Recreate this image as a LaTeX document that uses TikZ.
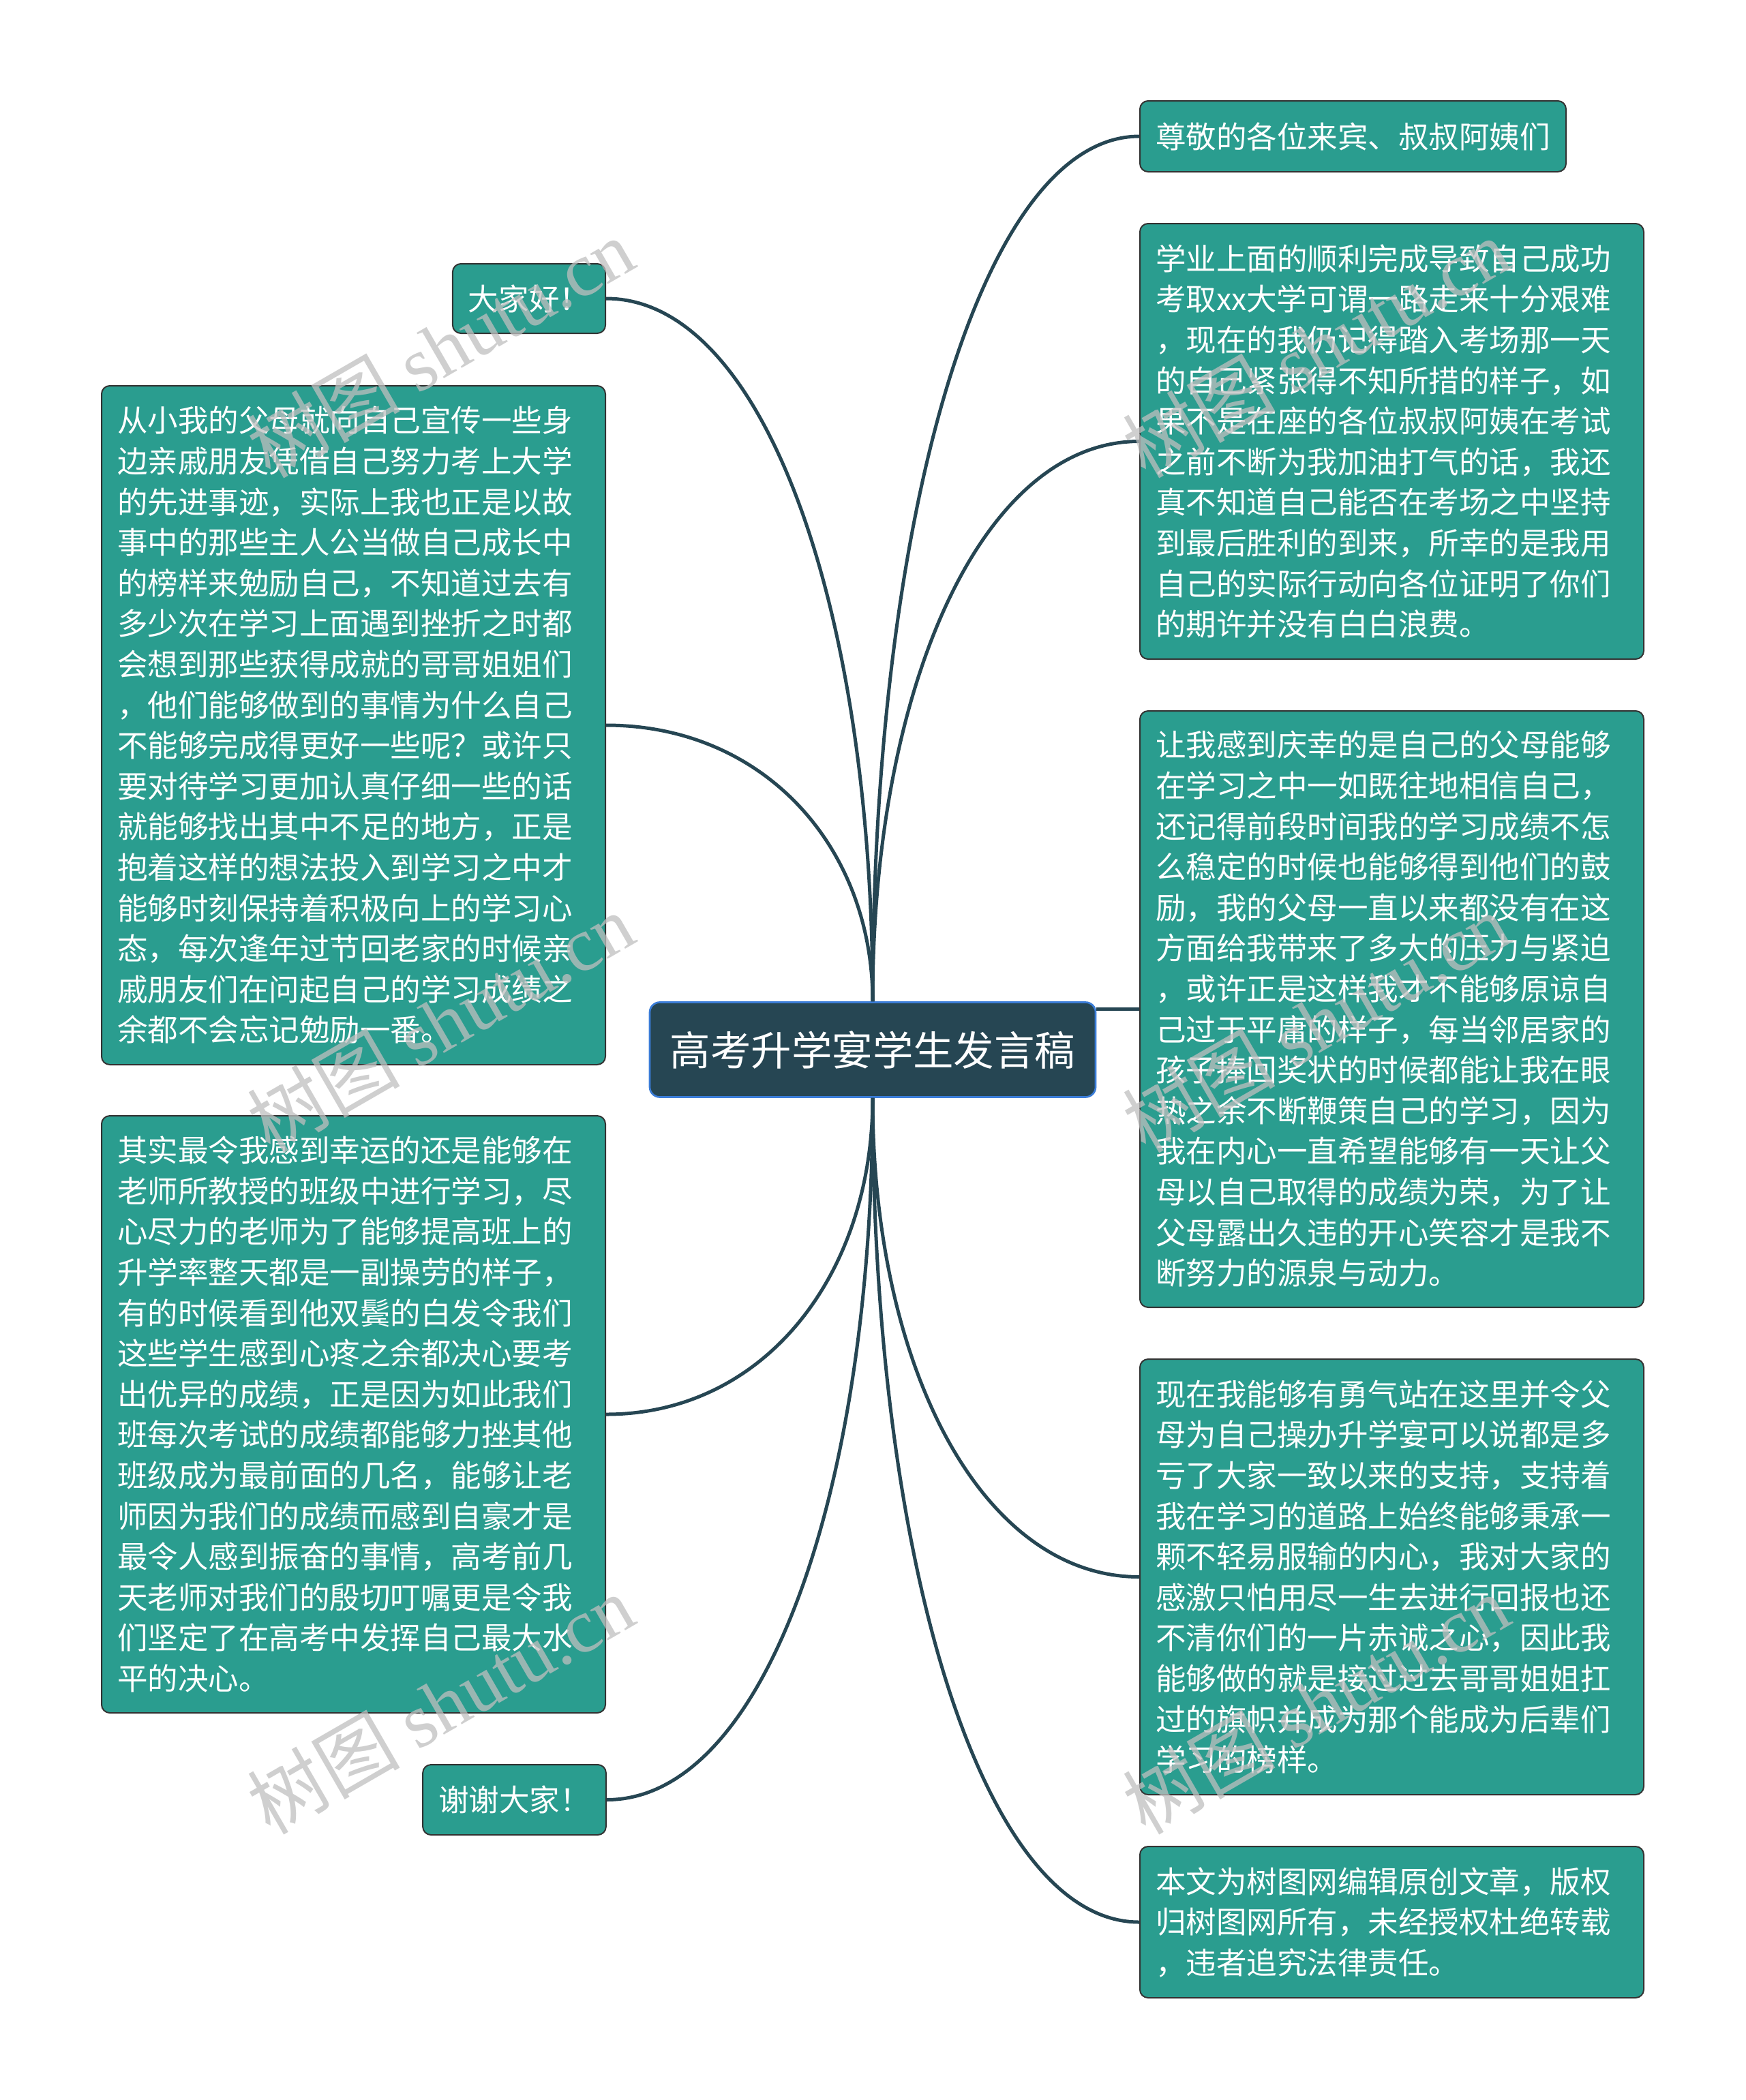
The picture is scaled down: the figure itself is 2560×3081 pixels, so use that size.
\documentclass[tikz,border=0pt]{standalone}
\usepackage{fontspec}
\setmainfont{Noto Sans CJK SC}
\newfontfamily\marklatin{Liberation Serif}
\usetikzlibrary{positioning}
\definecolor{deepslate}{HTML}{264653}
\definecolor{leafgreen}{HTML}{2A9D8F}
\definecolor{rimblue}{HTML}{3B7DD8}
\tikzset{every picture/.style={line width=0.75pt}}

\begin{document}
\begin{tikzpicture}[x=0.75pt,y=0.75pt,yscale=-1,xscale=1,
	topic/.style={draw=rimblue,fill=deepslate,line width=2pt,rounded corners=11pt,text=white,font=\fontsize{44.6}{53}\selectfont,minimum width=490.5pt,minimum height=104.25pt,inner sep=0pt},
	leaf/.style={draw=black!80,fill=leafgreen,line width=1.5pt,rounded corners=9pt,text=white,font=\fontsize{33.4}{44.7}\selectfont,inner xsep=17.25pt,inner ysep=0pt,align=left},
	longleaf/.style={leaf,text width=519.75pt},
	wire/.style={draw=deepslate,line width=3.75pt},
	wmark/.style={text=black!25,opacity=0.75,rotate=30,font=\fontsize{84}{84}\selectfont}]
	%set diagram to the full page
	\path[fill=white,use as bounding box] (0,0) rectangle (2560,3081);
	
	%Shape: Rounded Rectangle [main topic]
	\node[topic] (c) at (1280,1540) {高考升学宴学生发言稿};
	
	%Shape: Rounded Rectangle [right side]
	\node[leaf,minimum width=468.75pt,minimum height=78pt] (r1) at (1984.5,200) {尊敬的各位来宾、叔叔阿姨们};
	\node[longleaf,minimum height=479.25pt] (r2) at (2041.5,647.5) {学业上面的顺利完成导致自己成功\\考取xx大学可谓一路走来十分艰难\\，现在的我仍记得踏入考场那一天\\的自己紧张得不知所措的样子，如\\果不是在座的各位叔叔阿姨在考试\\之前不断为我加油打气的话，我还\\真不知道自己能否在考场之中坚持\\到最后胜利的到来，所幸的是我用\\自己的实际行动向各位证明了你们\\的期许并没有白白浪费。};
	\node[longleaf,minimum height=656.25pt] (r3) at (2041.5,1480.5) {让我感到庆幸的是自己的父母能够\\在学习之中一如既往地相信自己，\\还记得前段时间我的学习成绩不怎\\么稳定的时候也能够得到他们的鼓\\励，我的父母一直以来都没有在这\\方面给我带来了多大的压力与紧迫\\，或许正是这样我才不能够原谅自\\己过于平庸的样子，每当邻居家的\\孩子捧回奖状的时候都能让我在眼\\热之余不断鞭策自己的学习，因为\\我在内心一直希望能够有一天让父\\母以自己取得的成绩为荣，为了让\\父母露出久违的开心笑容才是我不\\断努力的源泉与动力。};
	\node[longleaf,minimum height=479.25pt] (r4) at (2041.5,2313.5) {现在我能够有勇气站在这里并令父\\母为自己操办升学宴可以说都是多\\亏了大家一致以来的支持，支持着\\我在学习的道路上始终能够秉承一\\颗不轻易服输的内心，我对大家的\\感激只怕用尽一生去进行回报也还\\不清你们的一片赤诚之心，因此我\\能够做的就是接过过去哥哥姐姐扛\\过的旗帜并成为那个能成为后辈们\\学习的榜样。};
	\node[longleaf,minimum height=166.5pt] (r5) at (2041.5,2820) {本文为树图网编辑原创文章，版权\\归树图网所有，未经授权杜绝转载\\，违者追究法律责任。};
	
	%Shape: Rounded Rectangle [left side]
	\node[leaf,minimum width=168pt,minimum height=76.5pt] (la) at (776,438) {大家好！};
	\node[longleaf,minimum height=747pt] (lb) at (518.5,1064) {从小我的父母就向自己宣传一些身\\边亲戚朋友凭借自己努力考上大学\\的先进事迹，实际上我也正是以故\\事中的那些主人公当做自己成长中\\的榜样来勉励自己，不知道过去有\\多少次在学习上面遇到挫折之时都\\会想到那些获得成就的哥哥姐姐们\\，他们能够做到的事情为什么自己\\不能够完成得更好一些呢？或许只\\要对待学习更加认真仔细一些的话\\就能够找出其中不足的地方，正是\\抱着这样的想法投入到学习之中才\\能够时刻保持着积极向上的学习心\\态，每次逢年过节回老家的时候亲\\戚朋友们在问起自己的学习成绩之\\余都不会忘记勉励一番。};
	\node[longleaf,minimum height=657pt] (lc) at (518.5,2075) {其实最令我感到幸运的还是能够在\\老师所教授的班级中进行学习，尽\\心尽力的老师为了能够提高班上的\\升学率整天都是一副操劳的样子，\\有的时候看到他双鬓的白发令我们\\这些学生感到心疼之余都决心要考\\出优异的成绩，正是因为如此我们\\班每次考试的成绩都能够力挫其他\\班级成为最前面的几名，能够让老\\师因为我们的成绩而感到自豪才是\\最令人感到振奋的事情，高考前几\\天老师对我们的殷切叮嘱更是令我\\们坚定了在高考中发挥自己最大水\\平的决心。};
	\node[leaf,minimum width=200.25pt,minimum height=77.25pt] (ld) at (754.5,2640.5) {谢谢大家！};
	
	%Curve Lines [right side]
	\draw[wire] (c.north) .. controls +(0,-711) and +(-231,0) .. (r1.west);
	\draw[wire] (c.north) .. controls +(0,-461) and +(-231,0) .. (r2.west);
	\draw[wire] (c.east |- r3.west) -- (r3.west);
	\draw[wire] (c.south) .. controls +(0,395) and +(-231,0) .. (r4.west);
	\draw[wire] (c.south) .. controls +(0,678) and +(-231,0) .. (r5.west);
	
	%Curve Lines [left side]
	\draw[wire] (c.north) .. controls +(0,-578) and +(231,0) .. (la.east);
	\draw[wire] (c.north) .. controls +(0,-227) and +(231,0) .. (lb.east);
	\draw[wire] (c.south) .. controls +(0,261) and +(231,0) .. (lc.east);
	\draw[wire] (c.south) .. controls +(0,578) and +(231,0) .. (ld.east);
	
	% Text Node [watermark]
	\foreach \wx in {646,1930}
		\foreach \wy in {510,1500,2500}
			\node[wmark] (wm-\wx-\wy) at (\wx,\wy) {树图 {\marklatin shutu.cn}};
	
\end{tikzpicture}
\end{document}
